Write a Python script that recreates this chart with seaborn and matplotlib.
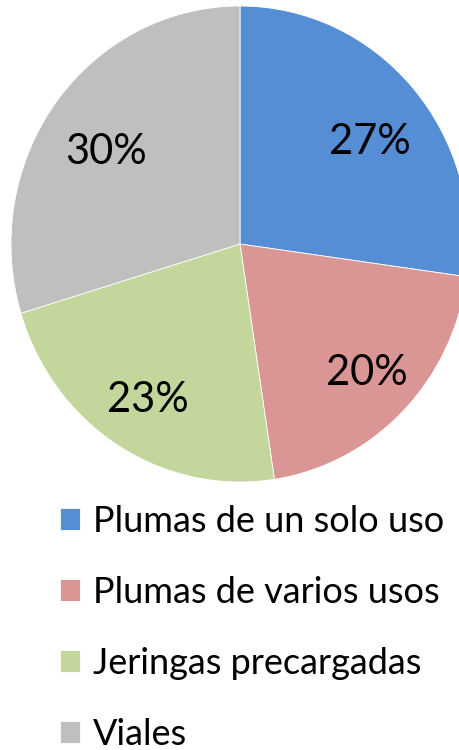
import matplotlib
matplotlib.use("Agg")
import matplotlib.pyplot as plt
import seaborn as sns
import numpy as np

categories = ["Plumas de un solo uso", "Plumas de varios usos", "Jeringas precargadas", "Viales"]
values = [27.2, 20.4, 22.7, 29.7]
colors = ["#558ED5", "#D99694", "#C3D69B", "#BFBFBF"]
label_radii = [0.72, 0.765, 0.755, 0.71]
label_angle_shift = [-3.0, 1.0, 0.0, 2.0]
label_drop = 0.015  # small downward nudge so glyphs sit centred like the reference

sns.set_theme(style="white")
plt.rcParams["font.family"] = ["Lato", "DejaVu Sans"]
plt.rcParams["text.color"] = "black"

W, H = 460, 750
fig = plt.figure(figsize=(W / 100, H / 100), dpi=100)
fig.patch.set_facecolor("white")

# pie box (slightly taller than wide, as in the reference)
cx, cy, rx, ry = 240, 244, 229, 238
ax = fig.add_axes([(cx - rx) / W, 1 - (cy + ry) / H, 2 * rx / W, 2 * ry / H])
wedges, texts, autotexts = ax.pie(
    values, colors=colors, startangle=90, counterclock=False,
    autopct=lambda p: f"{p:.0f}%", pctdistance=0.72,
    wedgeprops=dict(edgecolor="white", linewidth=0.6),
    textprops=dict(fontsize=30, color="black"),
)
for t, rr, da in zip(autotexts, label_radii, label_angle_shift):
    x, y = t.get_position()
    ang = np.arctan2(y, x) + np.deg2rad(da)
    t.set_position((rr * np.cos(ang), rr * np.sin(ang) - label_drop))
ax.set_aspect("auto")
ax.set_xlim(-1, 1)
ax.set_ylim(-1, 1)
ax.axis("off")

fs = 26
leg = fig.legend(
    wedges, categories, loc="upper left",
    bbox_to_anchor=(60 / W, 1 - 505 / H),
    frameon=False, fontsize=fs, handlelength=0.56, handleheight=0.56,
    handletextpad=0.36, labelspacing=1.05, borderaxespad=0, borderpad=0,
)
for txt in leg.get_texts():
    txt.set_color("black")

fig.savefig("out.png", dpi=100, facecolor=fig.get_facecolor())
